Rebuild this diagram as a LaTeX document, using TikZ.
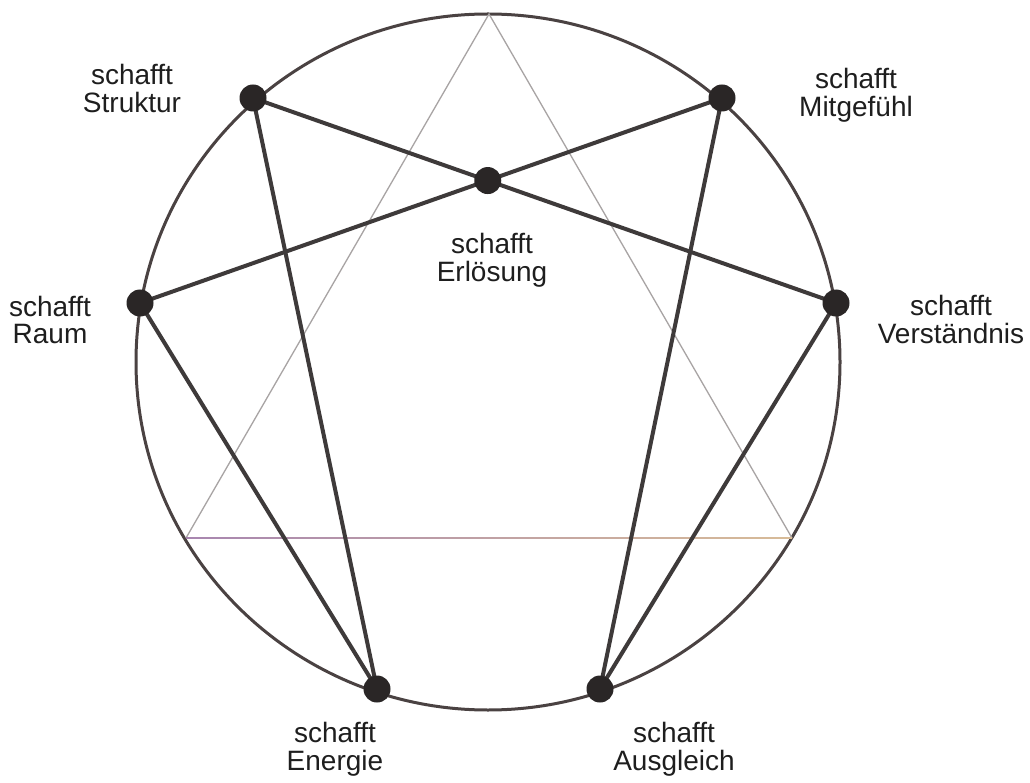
\documentclass[tikz,border=0pt]{standalone}
\usepackage{fontspec}
\setmainfont{Liberation Sans}
\definecolor{dotcol}{HTML}{2A2626}
\definecolor{linecol}{HTML}{3E3A3A}
\definecolor{circcol}{HTML}{4A4242}
\definecolor{tricol}{HTML}{A8A4A4}
\definecolor{txtcol}{HTML}{1E1E1E}
\definecolor{purp}{HTML}{A886B0}
\definecolor{tan}{HTML}{D8BC98}
\begin{document}
\begin{tikzpicture}[x=1pt,y=-1pt,
  dot/.style={circle,fill=dotcol,inner sep=0pt,minimum size=27pt},
  heavy/.style={line width=4pt,draw=linecol,line cap=round},
  circ/.style={line width=3pt,draw=circcol},
  trline/.style={line width=1.3pt,draw=tricol},
  lbl/.style={align=center,inner sep=0pt,font=\fontsize{28}{28}\selectfont,text=txtcol,anchor=base}]
\useasboundingbox[fill=white] (0,0) rectangle (1030,783);
% circle
\node[draw=none,inner sep=0pt] (circle) at (488,362) {};
\draw[circ] (circle.center) ellipse [x radius=352pt, y radius=348pt];
% triangle
\coordinate (t1) at (489,14);
\coordinate (t2) at (186,538);
\coordinate (t3) at (792,538);
\draw[trline] (t2) -- (t1) -- (t3);
\shade[left color=purp,right color=tan] (186,537.3) rectangle (792,538.7);
% points on the circle
\coordinate (s) at (253,98);
\coordinate (m) at (722,98);
\coordinate (r) at (140,303);
\coordinate (v) at (836,303);
\coordinate (en) at (377,689);
\coordinate (au) at (600,689);
% heavy lines
\draw[heavy] (s) -- (v);
\draw[heavy] (m) -- (r);
\draw[heavy] (s) -- (en);
\draw[heavy] (r) -- (en);
\draw[heavy] (m) -- (au);
\draw[heavy] (v) -- (au);
% dots
\node[dot] (ds) at (s) {};
\node[dot] (dm) at (m) {};
\node[dot] (dr) at (r) {};
\node[dot] (dv) at (v) {};
\node[dot] (den) at (en) {};
\node[dot] (dau) at (au) {};
\node[dot] (der) at (intersection of s--v and m--r) {};
% labels (anchor base = baseline of the last line)
\node[lbl] (ls) at (132,113) {schafft\\Struktur};
\node[lbl] (lm) at (856,117) {schafft\\Mitgefühl};
\node[lbl] (lr) at (50,344) {schafft\\Raum};
\node[lbl] (lv) at (951,343) {schafft\\Verständnis};
\node[lbl] (ler) at (492,282) {schafft\\Erlösung};
\node[lbl] (len) at (335,770) {schafft\\Energie};
\node[lbl] (lau) at (674,770) {schafft\\Ausgleich};
\end{tikzpicture}
\end{document}
